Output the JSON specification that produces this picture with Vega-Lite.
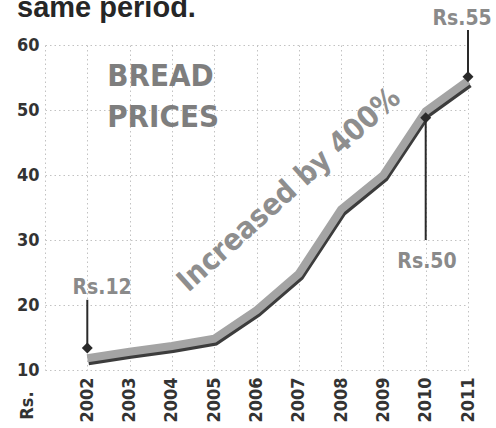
{
  "$schema": "https://vega.github.io/schema/vega-lite/v6.json",
  "width": 423,
  "height": 325,
  "autosize": {"type": "none"},
  "padding": {"left": 45, "top": 45, "right": 28, "bottom": 58},
  "background": "#ffffff",
  "title": {
    "text": "same period.",
    "anchor": "start",
    "frame": "group",
    "dx": -28,
    "offset": 0,
    "dy": 38,
    "baseline": "alphabetic",
    "font": "Liberation Sans",
    "fontSize": 29,
    "fontWeight": 900,
    "color": "#262626"
  },
  "config": {
    "view": {"stroke": null},
    "axis": {
      "labelFont": "DejaVu Sans Condensed",
      "labelFontWeight": "bold",
      "labelFontSize": 18,
      "labelColor": "#333333",
      "ticks": false,
      "domain": false,
      "grid": true,
      "gridColor": "#c2c2c2",
      "gridDash": [1.5, 3],
      "gridWidth": 1
    }
  },
  "datasets": {
    "prices": [
      {"year": 2002, "price": 11.8},
      {"year": 2003, "price": 12.8},
      {"year": 2004, "price": 13.7},
      {"year": 2005, "price": 14.8},
      {"year": 2006, "price": 19.2},
      {"year": 2007, "price": 24.8},
      {"year": 2008, "price": 34.7},
      {"year": 2009, "price": 40.0},
      {"year": 2010, "price": 49.8},
      {"year": 2011, "price": 54.5}
    ],
    "callouts": [
      {"year": 2002, "marker": 13.4, "end": 20.8, "label": "Rs.12", "labelYear": 2002.35, "labelValue": 22.6},
      {"year": 2010, "marker": 48.8, "end": 30.0, "label": "Rs.50", "labelYear": 2010.03, "labelValue": 26.6},
      {"year": 2011, "marker": 55.1, "end": 62.3, "label": "Rs.55", "labelYear": 2010.86, "labelValue": 64.0}
    ],
    "notes": [
      {"year": 2002.47, "value": 55.1, "text": "BREAD"},
      {"year": 2002.47, "value": 48.8, "text": "PRICES"}
    ],
    "slogan": [
      {"year": 2006.77, "value": 37.7, "text": "Increased by 400%"}
    ]
  },
  "encoding": {
    "x": {
      "field": "year",
      "type": "quantitative",
      "scale": {"domain": [2001, 2011], "nice": false, "zero": false},
      "axis": {
        "title": null,
        "values": [2001, 2002, 2003, 2004, 2005, 2006, 2007, 2008, 2009, 2010, 2011],
        "format": "d",
        "labelExpr": "datum.value == 2001 ? '' : datum.label",
        "labelAngle": -90,
        "labelAlign": "right",
        "labelBaseline": "middle",
        "labelPadding": 7
      }
    },
    "y": {
      "field": "price",
      "type": "quantitative",
      "scale": {"domain": [10, 60], "nice": false, "zero": false},
      "axis": {
        "title": "Rs.",
        "titleFont": "DejaVu Sans Condensed",
        "titleFontWeight": "bold",
        "titleFontSize": 18,
        "titleColor": "#333333",
        "titleAngle": -90,
        "titleX": -18,
        "titleY": 360,
        "titleAlign": "center",
        "titleBaseline": "middle",
        "values": [10, 20, 30, 40, 50, 60],
        "labelPadding": 6
      }
    }
  },
  "layer": [
    {
      "data": {"name": "slogan"},
      "mark": {"type": "text", "font": "DejaVu Sans Condensed", "fontWeight": "bold", "fontSize": 30, "angle": -42, "align": "center", "baseline": "middle", "color": "#8e8e8e"},
      "encoding": {
        "x": {"field": "year", "type": "quantitative"},
        "y": {"field": "value", "type": "quantitative"},
        "text": {"field": "text"}
      }
    },
    {
      "data": {"name": "notes"},
      "mark": {"type": "text", "font": "DejaVu Sans Condensed", "fontWeight": "bold", "fontSize": 31, "align": "left", "baseline": "middle", "color": "#7e7e7e"},
      "encoding": {
        "x": {"field": "year", "type": "quantitative"},
        "y": {"field": "value", "type": "quantitative"},
        "text": {"field": "text"}
      }
    },
    {
      "data": {"name": "prices"},
      "mark": {"type": "line", "color": "#ffffff", "strokeWidth": 13, "strokeJoin": "miter", "strokeCap": "butt", "xOffset": 0.5, "yOffset": 1}
    },
    {
      "data": {"name": "prices"},
      "mark": {"type": "line", "color": "#3c3c3c", "strokeWidth": 9, "strokeJoin": "miter", "strokeCap": "butt", "xOffset": 1, "yOffset": 2.5}
    },
    {
      "data": {"name": "prices"},
      "mark": {"type": "line", "color": "#a4a4a4", "strokeWidth": 8, "strokeJoin": "miter", "strokeCap": "butt"}
    },
    {
      "data": {"name": "callouts"},
      "mark": {"type": "rule", "color": "#2a2a2a", "strokeWidth": 2},
      "encoding": {
        "y": {"field": "marker", "type": "quantitative"},
        "y2": {"field": "end"}
      }
    },
    {
      "data": {"name": "callouts"},
      "mark": {"type": "point", "shape": "diamond", "filled": true, "size": 120, "color": "#2a2a2a", "opacity": 1},
      "encoding": {
        "y": {"field": "marker", "type": "quantitative"}
      }
    },
    {
      "data": {"name": "callouts"},
      "mark": {"type": "text", "font": "DejaVu Sans Condensed", "fontWeight": "bold", "fontSize": 21, "align": "center", "baseline": "middle", "color": "#8a8a8a"},
      "encoding": {
        "x": {"field": "labelYear", "type": "quantitative"},
        "y": {"field": "labelValue", "type": "quantitative"},
        "text": {"field": "label"}
      }
    }
  ]
}
